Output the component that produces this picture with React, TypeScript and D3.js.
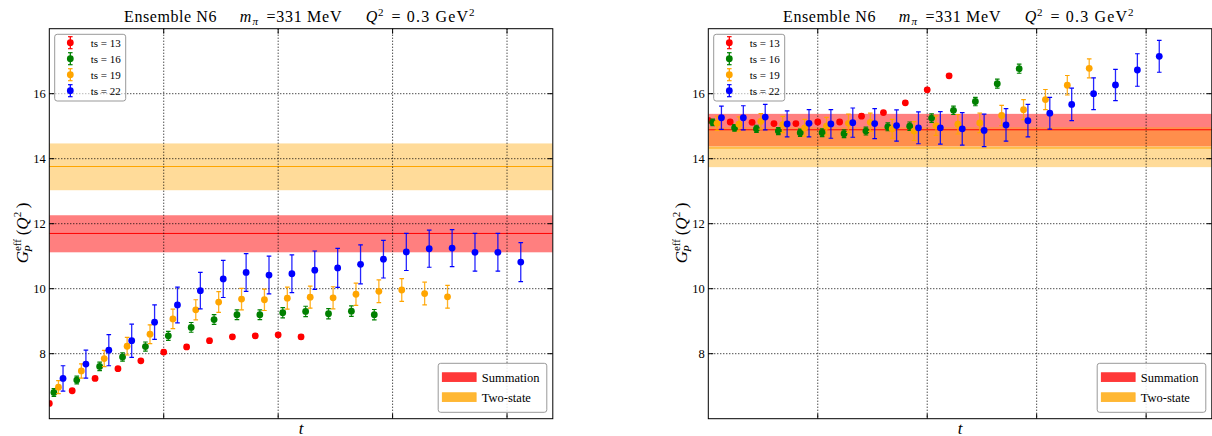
import React from 'react';
import * as d3 from 'd3';

// ---------- data ----------
const seriesNames = ['ts = 13', 'ts = 16', 'ts = 19', 'ts = 22'];
const seriesColors = ['#ff0000', '#008000', '#ffa500', '#0000ff'];
const seriesOffsets = [0, 0.2, 0.4, 0.6];

const leftTs13 = [6.47, 6.86, 7.24, 7.54, 7.78, 8.05, 8.21, 8.40, 8.52, 8.55, 8.58, 8.52];
const leftTs13Err = [0.05, 0.05, 0.05, 0.05, 0.05, 0.06, 0.06, 0.06, 0.06, 0.06, 0.06, 0.07];
const leftTs16 = [6.81, 7.19, 7.61, 7.90, 8.22, 8.55, 8.81, 9.05, 9.20, 9.20, 9.26, 9.30, 9.23, 9.31, 9.20];
const leftTs16Err = [0.12, 0.12, 0.13, 0.13, 0.14, 0.14, 0.15, 0.15, 0.15, 0.15, 0.16, 0.16, 0.16, 0.16, 0.16];
const leftTs19 = [6.97, 7.47, 7.85, 8.23, 8.60, 9.07, 9.35, 9.59, 9.68, 9.66, 9.71, 9.74, 9.72, 9.83, 9.92, 9.96, 9.85, 9.75];
const leftTs19Err = [0.2, 0.22, 0.25, 0.27, 0.29, 0.3, 0.31, 0.32, 0.33, 0.33, 0.34, 0.34, 0.34, 0.34, 0.35, 0.35, 0.35, 0.35];
const leftTs22 = [7.24, 7.68, 8.11, 8.40, 8.97, 9.50, 9.94, 10.30, 10.50, 10.42, 10.46, 10.57, 10.64, 10.75, 10.91, 11.13, 11.23, 11.25, 11.12, 11.12, 10.82];
const leftTs22Err = [0.39, 0.43, 0.48, 0.51, 0.53, 0.55, 0.56, 0.57, 0.58, 0.58, 0.58, 0.59, 0.6, 0.6, 0.58, 0.57, 0.57, 0.57, 0.58, 0.58, 0.6];

const rightTs13 = [15.18, 15.13, 15.12, 15.08, 15.08, 15.13, 15.13, 15.31, 15.42, 15.72, 16.12, 16.55];
const rightTs13Err = [0.05, 0.05, 0.05, 0.05, 0.05, 0.05, 0.05, 0.06, 0.06, 0.06, 0.06, 0.06];
const rightTs16 = [15.12, 14.95, 14.92, 14.85, 14.80, 14.80, 14.77, 14.85, 14.98, 15.00, 15.25, 15.49, 15.76, 16.31, 16.77];
const rightTs16Err = [0.1, 0.1, 0.11, 0.11, 0.11, 0.12, 0.12, 0.12, 0.12, 0.13, 0.13, 0.13, 0.13, 0.14, 0.14];
const rightTs19 = [15.09, 15.06, 15.15, 15.05, 14.95, 15.0, 15.09, 15.12, 14.92, 14.85, 15.02, 15.06, 15.10, 15.33, 15.51, 15.82, 16.26, 16.78];
const rightTs19Err = [0.22, 0.23, 0.24, 0.25, 0.26, 0.27, 0.28, 0.28, 0.29, 0.29, 0.3, 0.3, 0.3, 0.31, 0.31, 0.31, 0.3, 0.29];
const rightTs22 = [15.26, 15.26, 15.28, 15.07, 15.09, 15.07, 15.11, 15.08, 15.02, 14.95, 14.95, 14.92, 14.87, 15.04, 15.17, 15.40, 15.67, 16.00, 16.27, 16.73, 17.15];
const rightTs22Err = [0.36, 0.37, 0.39, 0.4, 0.42, 0.44, 0.45, 0.46, 0.48, 0.49, 0.5, 0.5, 0.5, 0.5, 0.5, 0.49, 0.5, 0.49, 0.48, 0.5, 0.49];

// bands: [low, center, high]
const leftSummation = [11.12, 11.70, 12.26];
const leftTwoState = [13.03, 13.76, 14.47];
const rightSummation = [14.38, 14.89, 15.38];
const rightTwoState = [13.74, 14.33, 14.97];

const yTicks = [8, 10, 12, 14, 16];
const xTicks = [5, 10, 15, 20];
const yDomain = [6, 18];
const leftXDomain = [0, 22];
const rightXDomain = [0, 23];
const bandNames = ['Summation', 'Two-state'];

// ---------- layout ----------
const W = 1212;
const H = 436;
const TOP = 28.7;
const BOTTOM = 418.7;
const PW = 503.5;
const FONT = 'Liberation Serif';

type PanelProps = {
  id: string;
  x0: number;
  xDomain: number[];
  values: number[][];
  errors: number[][];
  summation: number[];
  twoState: number[];
};

function Panel({ id, x0, xDomain, values, errors, summation, twoState }: PanelProps) {
  const x = d3.scaleLinear().domain(xDomain).range([x0, x0 + PW]);
  const y = d3.scaleLinear().domain(yDomain).range([BOTTOM, TOP]);
  const x1 = x0 + PW;
  const cx = (x0 + x1) / 2;
  const clipId = `clip-${id}`;
  const bandColors = [
    { fill: 'rgba(255,0,0,0.5)', line: '#ff0000' },
    { fill: 'rgba(255,165,0,0.4)', line: '#ffa500' },
  ];
  const bands = [summation, twoState];
  const tickLen = 5;
  const ts = { fontFamily: FONT };

  const lgX = x0 + 5.4;
  const lgY = 34.3;
  const rowH = 16;
  const blW = 108.6;
  const blX = x1 - 6 - blW;
  const blY = 363.3;
  const ty = 22;

  return (
    <g>
      <defs>
        <clipPath id={clipId}>
          <rect x={x0} y={TOP} width={PW} height={BOTTOM - TOP} />
        </clipPath>
      </defs>
      <g clipPath={`url(#${clipId})`}>
        {bands.map((b, i) => (
          <rect
            key={`band${i}`}
            x={x0}
            width={PW}
            y={y(b[2])}
            height={y(b[0]) - y(b[2])}
            fill={bandColors[i].fill}
          />
        ))}
        {bands.map((b, i) => (
          <line key={`bl${i}`} x1={x0} x2={x1} y1={y(b[1])} y2={y(b[1])} stroke={bandColors[i].line} strokeWidth={1} />
        ))}
        {yTicks.map((t) => (
          <line key={`gy${t}`} x1={x0} x2={x1} y1={y(t)} y2={y(t)} stroke="#000" strokeWidth={1} strokeDasharray="1,2" />
        ))}
        {xTicks.map((t) => (
          <line key={`gx${t}`} x1={x(t)} x2={x(t)} y1={TOP} y2={BOTTOM} stroke="#000" strokeWidth={1} strokeDasharray="1,2" />
        ))}
        {values.map((vals, si) => (
          <g key={`s${si}`}>
            {vals.map((v, i) => {
              const px = x(i + seriesOffsets[si]);
              const e = errors[si][i];
              const yt = y(v + e);
              const yb = y(v - e);
              const c = seriesColors[si];
              return (
                <g key={i}>
                  <line x1={px} x2={px} y1={yt} y2={yb} stroke={c} strokeWidth={1.3} strokeOpacity={0.85} />
                  <line x1={px - 2.3} x2={px + 2.3} y1={yt} y2={yt} stroke={c} strokeWidth={1.2} />
                  <line x1={px - 2.3} x2={px + 2.3} y1={yb} y2={yb} stroke={c} strokeWidth={1.2} />
                  <circle cx={px} cy={y(v)} r={3.4} fill={c} />
                </g>
              );
            })}
          </g>
        ))}
      </g>
      <rect x={x0} y={TOP} width={PW} height={BOTTOM - TOP} fill="none" stroke="#000" strokeWidth={1} />
      {yTicks.map((t) => (
        <g key={`ty${t}`}>
          <line x1={x0} x2={x0 + tickLen} y1={y(t)} y2={y(t)} stroke="#000" />
          <line x1={x1 - tickLen} x2={x1} y1={y(t)} y2={y(t)} stroke="#000" />
          <text x={x0 - 3.5} y={y(t)} dy="0.35em" textAnchor="end" style={ts} fontSize={12.5} fill="#000">
            {t}
          </text>
        </g>
      ))}
      {xTicks.map((t) => (
        <g key={`tx${t}`}>
          <line x1={x(t)} x2={x(t)} y1={BOTTOM} y2={BOTTOM - tickLen} stroke="#000" />
          <line x1={x(t)} x2={x(t)} y1={TOP} y2={TOP + tickLen} stroke="#000" />
        </g>
      ))}
      <text x={cx} y={433.5} textAnchor="middle" style={ts} fontStyle="italic" fontSize={17}>
        t
      </text>
      <text transform={`translate(${x0 - 21.5},233) rotate(-90)`} textAnchor="middle" style={ts} fontSize={17}>
        <tspan fontStyle="italic">G</tspan>
        <tspan fontSize={11} dy={-6.5}>eff</tspan>
        <tspan fontSize={11} fontStyle="italic" dx={-13} dy={11}>P</tspan>
        <tspan dx={10} dy={-4.5}>(</tspan>
        <tspan fontStyle="italic">Q</tspan>
        <tspan fontSize={11} dy={-6.5}>2</tspan>
        <tspan dx={3.5} dy={6.5}>)</tspan>
      </text>
      {/* title */}
      <g style={ts} fontSize={16}>
        <text x={cx - 177} y={ty} textLength={92.4} lengthAdjust="spacing">Ensemble N6</text>
        <text x={cx - 61.3} y={ty} fontStyle="italic">m</text>
        <text x={cx - 48.6} y={ty + 3} fontStyle="italic" fontSize={11}>π</text>
        <text x={cx - 34.6} y={ty} textLength={75} lengthAdjust="spacing">=331 MeV</text>
        <text x={cx + 64.7} y={ty} fontStyle="italic">Q</text>
        <text x={cx + 77} y={ty - 6.5} fontSize={11}>2</text>
        <text x={cx + 90.4} y={ty} textLength={76.6} lengthAdjust="spacing">= 0.3 GeV</text>
        <text x={cx + 168} y={ty - 6.5} fontSize={11}>2</text>
      </g>
      {/* top-left legend */}
      <rect x={lgX} y={lgY} width={71} height={66.7} rx={2.5} fill="rgba(255,255,255,0.6)" stroke="#999" strokeWidth={1} />
      {seriesNames.map((n, i) => {
        const ry = lgY + 8.4 + i * rowH;
        const mx = lgX + 15.6;
        const c = seriesColors[i];
        return (
          <g key={`lg${i}`}>
            <line x1={mx} x2={mx} y1={ry - 6} y2={ry + 6} stroke={c} strokeWidth={1.3} />
            <line x1={mx - 2.3} x2={mx + 2.3} y1={ry - 6} y2={ry - 6} stroke={c} strokeWidth={1.2} />
            <line x1={mx - 2.3} x2={mx + 2.3} y1={ry + 6} y2={ry + 6} stroke={c} strokeWidth={1.2} />
            <circle cx={mx} cy={ry} r={3.4} fill={c} />
            <text x={lgX + 36} y={ry} dy="0.35em" style={ts} fontSize={11}>
              {n}
            </text>
          </g>
        );
      })}
      {/* bottom-right legend */}
      <rect x={blX} y={blY} width={blW} height={49} rx={2.5} fill="rgba(255,255,255,0.85)" stroke="#999" strokeWidth={1} />
      {bandNames.map((n, i) => {
        const py = blY + 9.4 + i * 20;
        const fills = ['rgba(255,0,0,0.78)', 'rgba(255,165,0,0.8)'];
        return (
          <g key={`blg${i}`}>
            <rect x={blX + 4} y={py} width={34} height={9} fill={fills[i]} stroke={fills[i]} strokeWidth={0.6} />
            <text x={blX + 43.6} y={py + 4.5} dy="0.35em" style={ts} fontSize={12.5}>
              {n}
            </text>
          </g>
        );
      })}
    </g>
  );
}

export default function App() {
  return (
    <svg
      width={W}
      height={H}
      viewBox={`0 0 ${W} ${H}`}
      style={{ position: 'absolute', left: 0, top: 0, background: '#fff', fontFamily: FONT }}
    >
      <rect x={0} y={0} width={W} height={H} fill="#fff" />
      <Panel
        id="left"
        x0={49.3}
        xDomain={leftXDomain}
        values={[leftTs13, leftTs16, leftTs19, leftTs22]}
        errors={[leftTs13Err, leftTs16Err, leftTs19Err, leftTs22Err]}
        summation={leftSummation}
        twoState={leftTwoState}
      />
      <Panel
        id="right"
        x0={708.3}
        xDomain={rightXDomain}
        values={[rightTs13, rightTs16, rightTs19, rightTs22]}
        errors={[rightTs13Err, rightTs16Err, rightTs19Err, rightTs22Err]}
        summation={rightSummation}
        twoState={rightTwoState}
      />
    </svg>
  );
}
